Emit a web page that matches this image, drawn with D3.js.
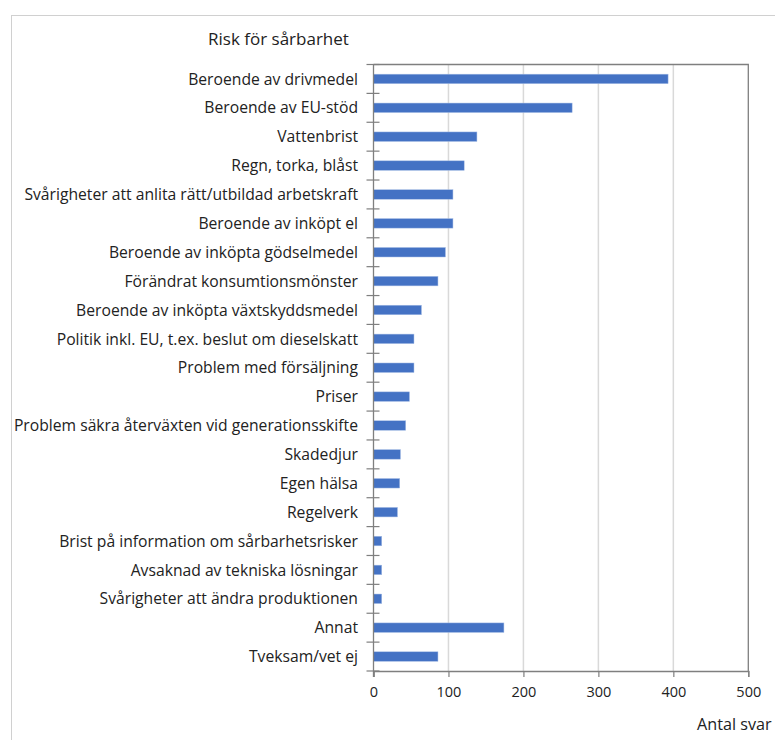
<!DOCTYPE html>
<html>
<head>
<meta charset="utf-8">
<script src="https://cdn.jsdelivr.net/npm/d3@7"></script>
<style>
  html, body { margin: 0; padding: 0; background: #fff; }
  svg { display: block; }
  text { font-family: "Open Sans", Lato, sans-serif; fill: #222; }
</style>
</head>
<body>
<svg id="chart" width="775" height="740"></svg>
<script>
// Categories, top to bottom
const categories = [
  "Beroende av drivmedel",
  "Beroende av EU-stöd",
  "Vattenbrist",
  "Regn, torka, blåst",
  "Svårigheter att anlita rätt/utbildad arbetskraft",
  "Beroende av inköpt el",
  "Beroende av inköpta gödselmedel",
  "Förändrat konsumtionsmönster",
  "Beroende av inköpta växtskyddsmedel",
  "Politik inkl. EU, t.ex. beslut om dieselskatt",
  "Problem med försäljning",
  "Priser",
  "Problem säkra återväxten vid generationsskifte",
  "Skadedjur",
  "Egen hälsa",
  "Regelverk",
  "Brist på information om sårbarhetsrisker ",
  "Avsaknad av tekniska lösningar",
  "Svårigheter att ändra produktionen",
  "Annat",
  "Tveksam/vet ej"
];

// Number of answers per category
const values = [393, 265, 138, 121, 106, 106, 96, 86, 64, 54, 54, 48, 43, 36, 35, 32, 11, 11, 11, 174, 86];

const xTicks = [0, 100, 200, 300, 400, 500];
const title = "Risk för sårbarhet";
const xTitle = "Antal svar";

const svg = d3.select("#chart");

// Outer chart-area frame
svg.append("rect")
  .attr("x", 11.5).attr("y", 15.5)
  .attr("width", 800).attr("height", 800)
  .attr("fill", "none").attr("stroke", "#d0d0d0").attr("stroke-width", 1);

const plot = { left: 373.5, right: 748.3, top: 64.5, bottom: 671 };

const x = d3.scaleLinear().domain([0, 500]).range([plot.left, plot.right]);
const y = d3.scaleBand().domain(categories).range([plot.top, plot.bottom]).paddingInner(0.67).paddingOuter(0.335);
const yEdge = d3.scaleLinear().domain([0, categories.length]).range([plot.top, plot.bottom]);

// Vertical gridlines
svg.append("g").selectAll("line")
  .data(xTicks.filter(d => d > 0 && d < 500))
  .join("line")
  .attr("x1", d => x(d)).attr("x2", d => x(d))
  .attr("y1", plot.top).attr("y2", plot.bottom)
  .attr("stroke", "#d9d9d9").attr("stroke-width", 1.5);

// Top and right frame of the plot area
svg.append("path")
  .attr("d", `M${plot.left},${plot.top}H${plot.right}V${plot.bottom}`)
  .attr("fill", "none").attr("stroke", "#7f7f7f").attr("stroke-width", 1.3);

// Bars
svg.append("g").selectAll("rect")
  .data(categories)
  .join("rect")
  .attr("x", x(0))
  .attr("y", d => y(d))
  .attr("width", (d, i) => x(values[i]) - x(0))
  .attr("height", y.bandwidth())
  .attr("fill", "#4472c4")
  .attr("stroke", "#a9bfe6").attr("stroke-width", 0.5);

// Category axis: boundary ticks crossing the axis line
const gy = svg.append("g");
gy.append("line")
  .attr("x1", plot.left).attr("x2", plot.left)
  .attr("y1", plot.top).attr("y2", plot.bottom + 6)
  .attr("stroke", "#7f7f7f").attr("stroke-width", 1.3);
gy.selectAll("line.tk")
  .data(d3.range(categories.length + 1))
  .join("line").attr("class", "tk")
  .attr("x1", plot.left - 7).attr("x2", plot.left + 6)
  .attr("y1", d => yEdge(d)).attr("y2", d => yEdge(d))
  .attr("stroke", "#7f7f7f").attr("stroke-width", 1.2);
gy.selectAll("text")
  .data(categories)
  .join("text")
  .attr("x", 358)
  .attr("y", d => y(d) + y.bandwidth() / 2)
  .attr("dy", "0.36em")
  .attr("text-anchor", "end")
  .attr("font-size", 15.7)
  .text(d => d);

// Value axis
const gx = svg.append("g").attr("transform", `translate(0,${plot.bottom})`)
  .call(d3.axisBottom(x).tickValues(xTicks).tickSize(6).tickPadding(10).tickFormat(d3.format("d")));
gx.select(".domain").attr("stroke", "#7f7f7f").attr("stroke-width", 1.3);
gx.selectAll(".tick line").attr("stroke", "#7f7f7f").attr("stroke-width", 1.2);
gx.selectAll(".tick text").attr("font-size", 14.5).attr("font-family", "'Open Sans', sans-serif").attr("fill", "#333");

// Titles
svg.append("text")
  .attr("x", 208).attr("y", 45)
  .attr("font-size", 17)
  .text(title);

svg.append("text")
  .attr("x", 697).attr("y", 730)
  .attr("font-size", 16.2)
  .text(xTitle);
</script>
</body>
</html>
